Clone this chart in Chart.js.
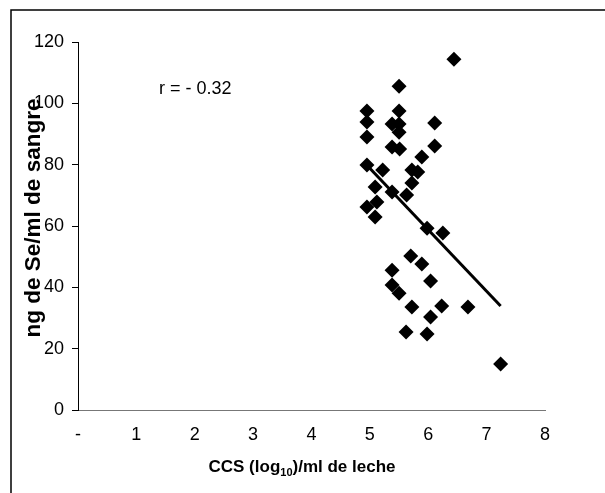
<!DOCTYPE html>
<html>
<head>
<meta charset="utf-8">
<script src="https://cdn.jsdelivr.net/npm/chart.js@4/dist/chart.umd.min.js"></script>
<style>
  body { margin: 0; background: #fff; }
  canvas { display: block; }
</style>
</head>
<body>
<canvas id="ccsChart" width="605" height="493"></canvas>
<script>
// CCS (log10 cells/ml milk) vs blood selenium (ng/ml)
var ccs = [6.44, 5.50, 4.95, 4.95, 4.95, 5.50, 5.38, 5.50, 5.50, 6.11,
           6.11, 5.38, 5.51, 5.89, 4.95, 5.22, 5.72, 5.82, 5.09, 5.38,
           5.72, 5.63, 5.12, 4.95, 5.09, 5.98, 6.25, 5.70, 5.89, 5.38,
           6.04, 5.38, 5.50, 5.72, 6.23, 6.68, 6.04, 5.62, 5.98, 7.24];
var seBlood = [114.4, 105.6, 97.5, 93.9, 89.0, 97.5, 93.3, 93.3, 90.6, 93.6,
               86.1, 85.8, 85.1, 82.5, 79.9, 78.3, 78.3, 77.6, 72.7, 71.1,
               74.0, 70.1, 67.8, 66.2, 62.9, 59.3, 57.7, 50.2, 47.6, 45.6,
               42.1, 40.8, 38.1, 33.6, 33.9, 33.6, 30.3, 25.4, 24.8, 15.0];

// linear trend, ends of the drawn segment
var trendX = [4.95, 7.24];
var trendY = [79.8, 33.9];

var xTicks = [0, 1, 2, 3, 4, 5, 6, 7, 8];
var yTicks = [0, 20, 40, 60, 80, 100, 120];
var rLabel = "r = - 0.32";

var pts = ccs.map(function (v, i) { return { x: v, y: seBlood[i] }; });
var trend = trendX.map(function (v, i) { return { x: v, y: trendY[i] }; });

var FONT = '"Liberation Sans", Arial, sans-serif';

var decorPlugin = {
    id: 'decor',
    afterDraw: function (chart) {
        var ctx = chart.ctx;
        ctx.save();
        // outer frame (only top and left edges fall inside the canvas)
        ctx.strokeStyle = '#000';
        ctx.lineWidth = 1.5;
        ctx.beginPath();
        ctx.moveTo(11, 493);
        ctx.lineTo(11, 10);
        ctx.lineTo(605, 10);
        ctx.stroke();

        ctx.fillStyle = '#000';

        // correlation note
        ctx.font = '18px ' + FONT;
        ctx.textAlign = 'left';
        ctx.textBaseline = 'middle';
        ctx.fillText(rLabel, 159, 89);

        // y title
        ctx.save();
        ctx.translate(34, 218);
        ctx.rotate(-Math.PI / 2);
        ctx.font = 'bold 22.5px ' + FONT;
        ctx.textAlign = 'center';
        ctx.textBaseline = 'middle';
        ctx.fillText('ng de Se/ml de sangre', 0, 0);
        ctx.restore();

        // x title with subscript
        var a = 'CCS (log', sub = '10', b = ')/ml de leche';
        ctx.textBaseline = 'alphabetic';
        ctx.font = 'bold 17px ' + FONT;
        var wa = ctx.measureText(a).width, wb = ctx.measureText(b).width;
        ctx.font = 'bold 11px ' + FONT;
        var ws = ctx.measureText(sub).width;
        var x0 = 302 - (wa + ws + wb) / 2, base = 472;
        ctx.font = 'bold 17px ' + FONT;
        ctx.fillText(a, x0, base);
        ctx.font = 'bold 11px ' + FONT;
        ctx.fillText(sub, x0 + wa, base + 4);
        ctx.font = 'bold 17px ' + FONT;
        ctx.fillText(b, x0 + wa + ws, base);
        ctx.restore();
    }
};

new Chart(document.getElementById('ccsChart'), {
    type: 'scatter',
    data: {
        datasets: [{
            data: pts,
            pointStyle: 'rectRot',
            pointRadius: 7.5,
            pointBorderWidth: 0,
            backgroundColor: '#000',
            borderColor: '#000'
        }, {
            type: 'line',
            data: trend,
            borderColor: '#000',
            borderWidth: 3,
            pointRadius: 0,
            fill: false
        }]
    },
    options: {
        responsive: false,
        animation: false,
        devicePixelRatio: 1,
        layout: { padding: { left: 0, top: 42, right: 60, bottom: 0 } },
        plugins: { legend: { display: false }, tooltip: { enabled: false } },
        scales: {
            x: {
                type: 'linear',
                min: 0,
                max: 8,
                afterBuildTicks: function (s) { s.ticks = xTicks.map(function (v) { return { value: v }; }); },
                afterFit: function (s) { s.height = 83; },
                grid: { display: false },
                border: { display: true, color: '#777', width: 1, dash: [2, 3] },
                ticks: {
                    padding: 6,
                    color: '#000',
                    font: { family: FONT, size: 18 },
                    callback: function (v) { return v === 0 ? '-' : v; }
                }
            },
            y: {
                type: 'linear',
                min: 0,
                max: 120,
                afterBuildTicks: function (s) { s.ticks = yTicks.map(function (v) { return { value: v }; }); },
                afterFit: function (s) { s.width = 78; },
                grid: { drawOnChartArea: false, drawTicks: true, tickLength: 6, color: '#000' },
                border: { display: true, color: '#000', width: 1 },
                ticks: {
                    padding: 8,
                    color: '#000',
                    font: { family: FONT, size: 18 }
                }
            }
        }
    },
    plugins: [decorPlugin]
});
</script>
</body>
</html>
